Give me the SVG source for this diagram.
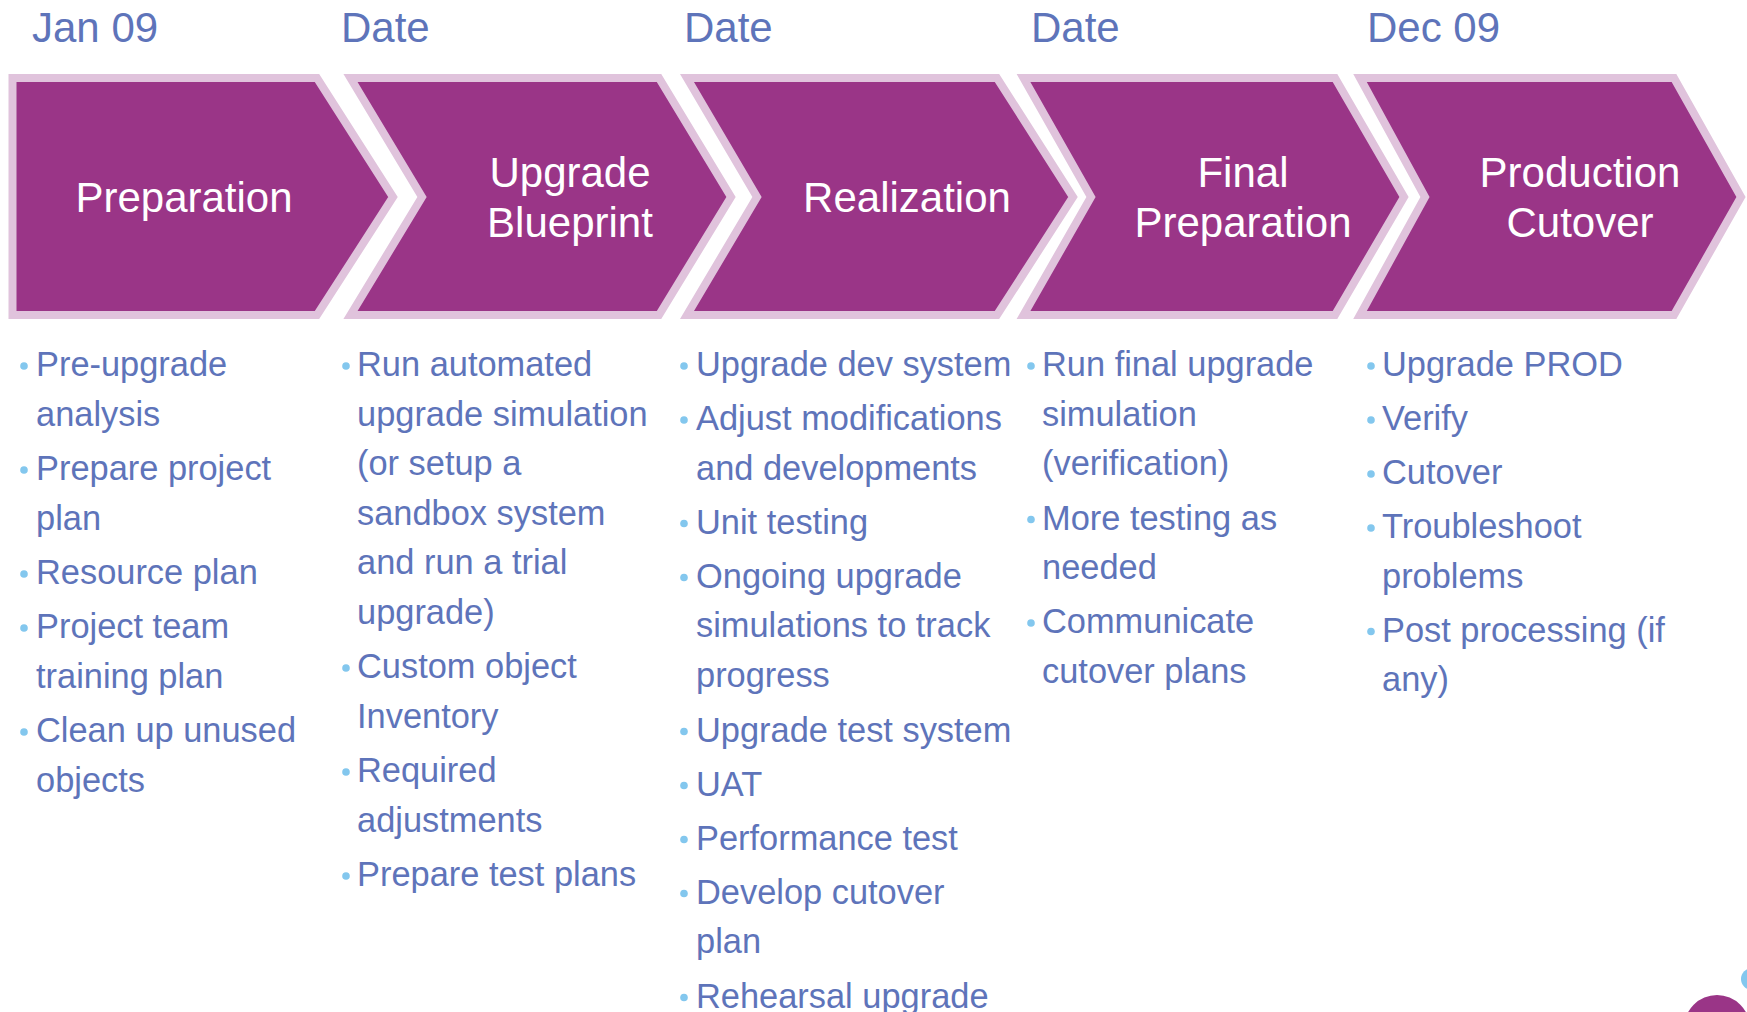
<svg xmlns="http://www.w3.org/2000/svg" width="1747" height="1012" viewBox="0 0 1747 1012">
<style>
.chev{fill:#9A3587;stroke:#E0C3DC;stroke-width:8;stroke-linejoin:miter;stroke-miterlimit:10}
.title{font-family:"Liberation Sans",Arial,sans-serif;font-size:42px;fill:#FFFFFF;text-anchor:middle}
.date{font-family:"Liberation Sans",Arial,sans-serif;font-size:42px;fill:#5E74BA}
.item{font-family:"Liberation Sans",Arial,sans-serif;font-size:34.4px;fill:#5E74BA}
.dot{fill:#83C7EE}
</style>
<rect x="0" y="0" width="1747" height="1012" fill="#FFFFFF"/>
<g id="dates">
<text class="date" x="32" y="42">Jan 09</text>
<text class="date" x="341" y="42">Date</text>
<text class="date" x="684" y="42">Date</text>
<text class="date" x="1031" y="42">Date</text>
<text class="date" x="1367" y="42">Dec 09</text>
</g>
<g id="connectors"></g>
<g id="node-preparation">
<polygon class="chev" points="12.5,78 317,78 393,197 317,315 12.5,315"/>
<text class="title" x="184" y="212">Preparation</text>
</g>
<g id="node-upgrade-blueprint">
<polygon class="chev" points="350.5,78 659,78 731,197 659,315 350.5,315 422,197"/>
<text class="title" x="570" y="187">Upgrade</text>
<text class="title" x="570" y="237">Blueprint</text>
</g>
<g id="node-realization">
<polygon class="chev" points="687,78 997,78 1073,197 997,315 687,315 757,197"/>
<text class="title" x="907" y="212">Realization</text>
</g>
<g id="node-final-preparation">
<polygon class="chev" points="1023.5,78 1335,78 1404,197 1335,315 1023.5,315 1091,197"/>
<text class="title" x="1243" y="187">Final</text>
<text class="title" x="1243" y="237">Preparation</text>
</g>
<g id="node-production-cutover">
<polygon class="chev" points="1360,78 1674,78 1741,197 1674,315 1360,315 1425,197"/>
<text class="title" x="1580" y="187">Production</text>
<text class="title" x="1580" y="237">Cutover</text>
</g>
<g id="list-preparation">
<circle class="dot" cx="24" cy="366" r="3.8"/>
<text class="item" x="36" y="376">Pre-upgrade</text>
<text class="item" x="36" y="426">analysis</text>
<circle class="dot" cx="24" cy="470" r="3.8"/>
<text class="item" x="36" y="480">Prepare project</text>
<text class="item" x="36" y="530">plan</text>
<circle class="dot" cx="24" cy="574" r="3.8"/>
<text class="item" x="36" y="584">Resource plan</text>
<circle class="dot" cx="24" cy="628" r="3.8"/>
<text class="item" x="36" y="638">Project team</text>
<text class="item" x="36" y="688">training plan</text>
<circle class="dot" cx="24" cy="732" r="3.8"/>
<text class="item" x="36" y="742">Clean up unused</text>
<text class="item" x="36" y="792">objects</text>
</g>
<g id="list-upgrade-blueprint">
<circle class="dot" cx="346" cy="366" r="3.8"/>
<text class="item" x="357" y="376">Run automated</text>
<text class="item" x="357" y="425.5">upgrade simulation</text>
<text class="item" x="357" y="475">(or setup a</text>
<text class="item" x="357" y="524.5">sandbox system</text>
<text class="item" x="357" y="574">and run a trial</text>
<text class="item" x="357" y="623.5">upgrade)</text>
<circle class="dot" cx="346" cy="668" r="3.8"/>
<text class="item" x="357" y="678">Custom object</text>
<text class="item" x="357" y="727.5">Inventory</text>
<circle class="dot" cx="346" cy="772" r="3.8"/>
<text class="item" x="357" y="782">Required</text>
<text class="item" x="357" y="831.5">adjustments</text>
<circle class="dot" cx="346" cy="876" r="3.8"/>
<text class="item" x="357" y="886">Prepare test plans</text>
</g>
<g id="list-realization">
<circle class="dot" cx="684" cy="366" r="3.8"/>
<text class="item" x="696" y="376">Upgrade dev system</text>
<circle class="dot" cx="684" cy="420" r="3.8"/>
<text class="item" x="696" y="430">Adjust modifications</text>
<text class="item" x="696" y="479.5">and developments</text>
<circle class="dot" cx="684" cy="523.5" r="3.8"/>
<text class="item" x="696" y="533.5">Unit testing</text>
<circle class="dot" cx="684" cy="577.5" r="3.8"/>
<text class="item" x="696" y="587.5">Ongoing upgrade</text>
<text class="item" x="696" y="637">simulations to track</text>
<text class="item" x="696" y="686.5">progress</text>
<circle class="dot" cx="684" cy="731.5" r="3.8"/>
<text class="item" x="696" y="741.5">Upgrade test system</text>
<circle class="dot" cx="684" cy="785.5" r="3.8"/>
<text class="item" x="696" y="795.5">UAT</text>
<circle class="dot" cx="684" cy="839.5" r="3.8"/>
<text class="item" x="696" y="849.5">Performance test</text>
<circle class="dot" cx="684" cy="893.5" r="3.8"/>
<text class="item" x="696" y="903.5">Develop cutover</text>
<text class="item" x="696" y="953">plan</text>
<circle class="dot" cx="684" cy="997.5" r="3.8"/>
<text class="item" x="696" y="1007.5">Rehearsal upgrade</text>
</g>
<g id="list-final-preparation">
<circle class="dot" cx="1031" cy="366" r="3.8"/>
<text class="item" x="1042" y="376">Run final upgrade</text>
<text class="item" x="1042" y="425.5">simulation</text>
<text class="item" x="1042" y="475">(verification)</text>
<circle class="dot" cx="1031" cy="519.5" r="3.8"/>
<text class="item" x="1042" y="529.5">More testing as</text>
<text class="item" x="1042" y="579">needed</text>
<circle class="dot" cx="1031" cy="623" r="3.8"/>
<text class="item" x="1042" y="633">Communicate</text>
<text class="item" x="1042" y="682.5">cutover plans</text>
</g>
<g id="list-production-cutover">
<circle class="dot" cx="1371" cy="366" r="3.8"/>
<text class="item" x="1382" y="376">Upgrade PROD</text>
<circle class="dot" cx="1371" cy="420" r="3.8"/>
<text class="item" x="1382" y="430">Verify</text>
<circle class="dot" cx="1371" cy="474" r="3.8"/>
<text class="item" x="1382" y="484">Cutover</text>
<circle class="dot" cx="1371" cy="528" r="3.8"/>
<text class="item" x="1382" y="538">Troubleshoot</text>
<text class="item" x="1382" y="587.5">problems</text>
<circle class="dot" cx="1371" cy="631.5" r="3.8"/>
<text class="item" x="1382" y="641.5">Post processing (if</text>
<text class="item" x="1382" y="691">any)</text>
</g>
<g id="decoration">
<circle cx="1752" cy="979" r="11" fill="#83C7EE"/>
<circle cx="1717" cy="1028" r="33" fill="#9A3587"/>
</g>
</svg>
